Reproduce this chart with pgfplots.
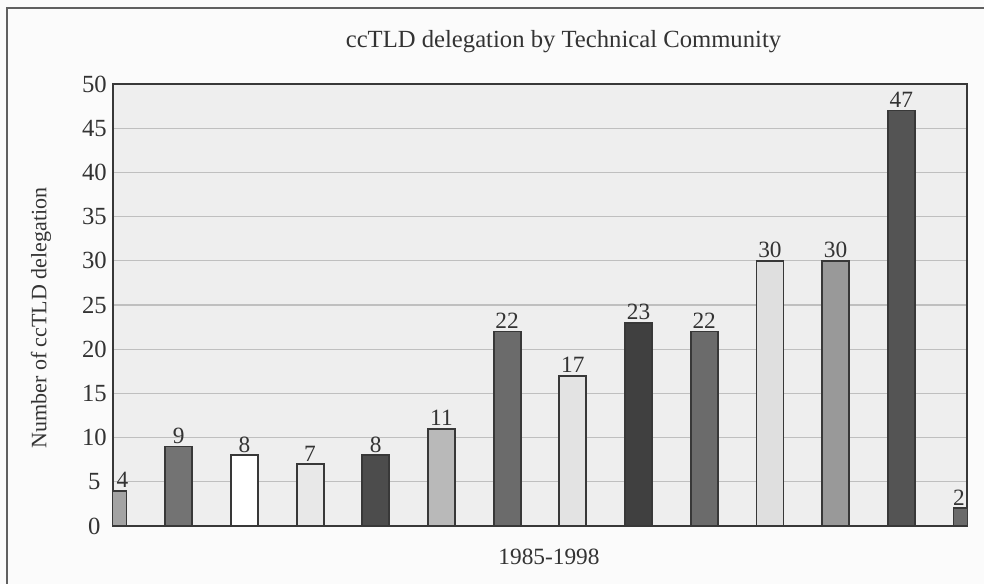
\documentclass[border=0pt]{standalone}
\usepackage{fontspec}
\setmainfont{Liberation Serif}
\usepackage{pgfplots}
\pgfplotsset{compat=1.18}
\definecolor{txt}{gray}{0.2}
\definecolor{edge}{gray}{0.22}
\definecolor{grid}{gray}{0.55}
\definecolor{plotbg}{gray}{0.935}
\begin{document}
\begin{tikzpicture}
\path[use as bounding box, fill={gray!3}] (0,0) rectangle (738pt,438pt);
\draw[edge!80, line width=1.1pt] (5.25pt,-10pt) -- (5.25pt,432pt) -- (760pt,432pt);
\begin{axis}[
  at={(84.75pt,43.5pt)}, anchor=south west,
  scale only axis, width=640.5pt, height=331.5pt,
  xmin=0, xmax=13, ymin=0, ymax=50,
  ytick={0,5,...,50},
  xtick=\empty,
  major tick length=0pt,
  ymajorgrids,
  grid style={grid, line width=0.8pt},
  axis line style={edge, line width=1.2pt},
  axis background/.style={fill=plotbg},
  /pgf/number format/assume math mode=true,
  yticklabel style={font=\fontsize{18.5}{18.5}\selectfont, text=txt, anchor=center, xshift=-14pt},
  title={ccTLD delegation by Technical Community},
  title style={font=\fontsize{18.5}{18.5}\selectfont, text=txt, at={(0.5275,1.0634)}, anchor=base},
  xlabel={1985-1998},
  xlabel style={font=\fontsize{17.5}{17.5}\selectfont, text=txt, at={(0.5105,-0.0882)}, anchor=base},
  ylabel={Number of ccTLD delegation},
  ylabel style={font=\fontsize{16.5}{16.5}\selectfont, text=txt, at={(-0.0779,0.4706)}, anchor=base},
  every axis plot/.append style={ybar, bar width=20.25pt, bar shift=0pt, draw=edge, line width=1.4pt},
  nodes near coords,
  every node near coord/.append style={font=\fontsize{17.5}{17.5}\selectfont, text=txt, inner sep=1.5pt},
]
\addplot[fill={gray!72}, nodes near coords style={xshift=7pt}] coordinates {(0,4)};
\addplot[fill={black!55}] coordinates {(1,9)};
\addplot[fill=white] coordinates {(2,8)};
\addplot[fill={gray!18}] coordinates {(3,7)};
\addplot[fill={black!70}] coordinates {(4,8)};
\addplot[fill={gray!55}] coordinates {(5,11)};
\addplot[fill={black!58}] coordinates {(6,22)};
\addplot[fill={gray!22}] coordinates {(7,17)};
\addplot[fill={black!75}] coordinates {(8,23)};
\addplot[fill={black!58}] coordinates {(9,22)};
\addplot[fill={gray!25}] coordinates {(10,30)};
\addplot[fill={black!40}] coordinates {(11,30)};
\addplot[fill={black!67}] coordinates {(12,47)};
\addplot[fill={black!58}, nodes near coords style={xshift=-6pt}] coordinates {(13,2)};
\end{axis}
\end{tikzpicture}
\end{document}
